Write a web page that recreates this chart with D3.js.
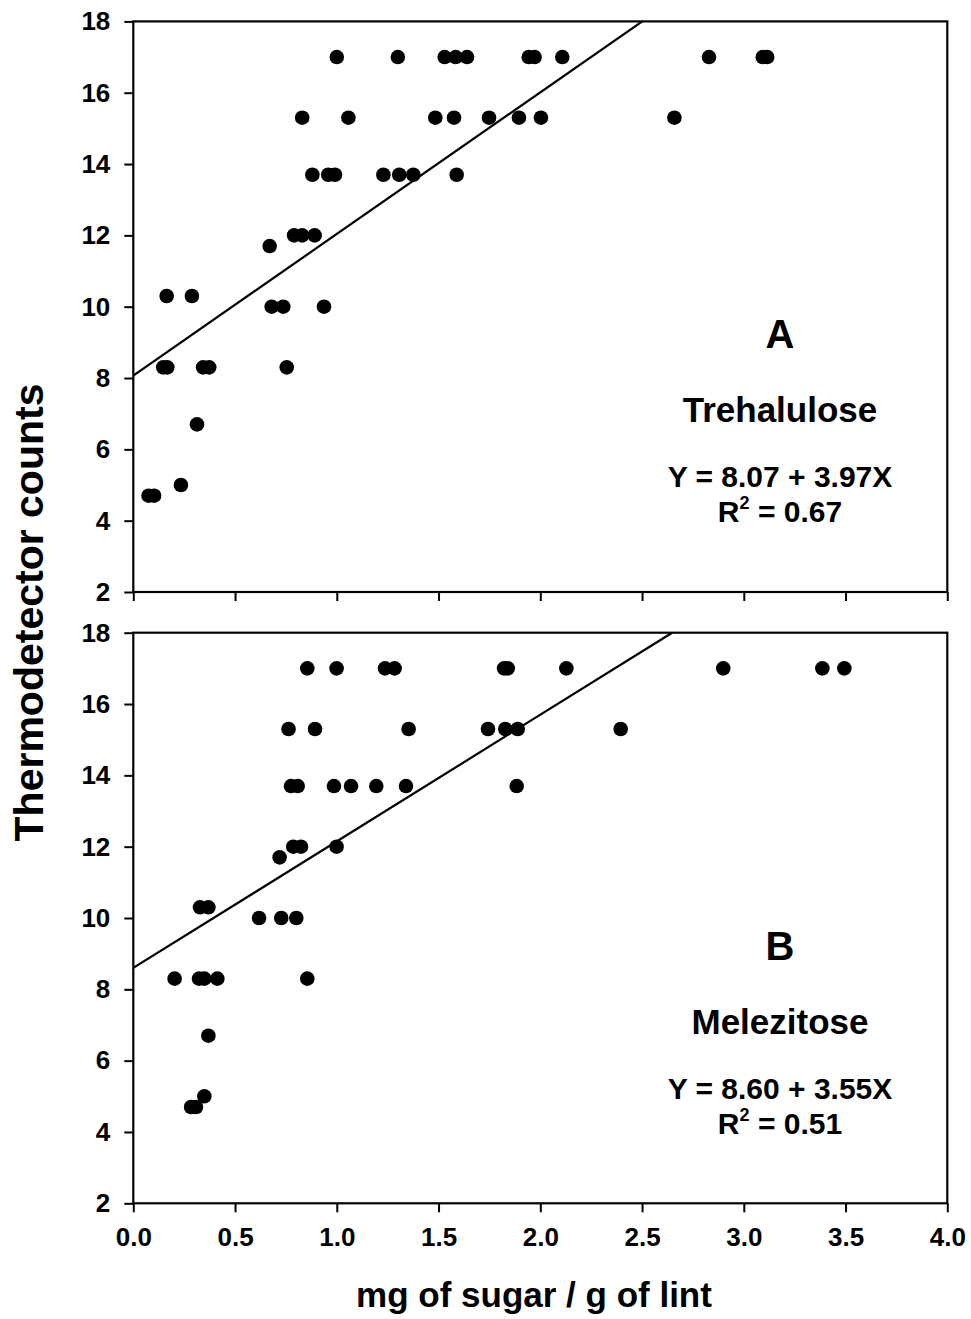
<!DOCTYPE html>
<html lang="en">
<head>
	<meta charset="UTF-8">
	<title>Thermodetector counts</title>
	<script src="https://cdn.jsdelivr.net/npm/d3@7"></script>
	<style>
		html,body{
			margin:0;
			padding:0;
			background:#fff;
		}
		svg{
			display:block;
			font-family:"Liberation Sans", Arial, sans-serif;
			font-weight:bold;
		}
		.tick text{
			font-family:"Liberation Sans", Arial, sans-serif;
			font-size:26px;
			font-weight:bold;
			fill:#000;
		}
		.tick line{
			stroke:#000;
			stroke-width:2;
		}
	</style>
</head>
<body>
	<svg id="svg" width="971" height="1319"></svg>
	<script>
		// data: [mg sugar / g lint, thermodetector count]
		var trehalulose = [
			[1.00,17],[1.30,17],[1.53,17],[1.584,17],[1.64,17],[1.943,17],[1.972,17],[2.108,17],[2.829,17],[3.093,17],[3.115,17],
			[0.83,15.3],[1.057,15.3],[1.484,15.3],[1.576,15.3],[1.748,15.3],[1.895,15.3],[2.003,15.3],[2.659,15.3],
			[0.88,13.7],[0.958,13.7],[0.991,13.7],[1.229,13.7],[1.307,13.7],[1.376,13.7],[1.589,13.7],
			[0.79,12],[0.83,12],[0.891,12],
			[0.670,11.7],
			[0.164,10.3],[0.288,10.3],
			[0.68,10],[0.737,10],[0.937,10],
			[0.147,8.3],[0.167,8.3],[0.343,8.3],[0.373,8.3],[0.754,8.3],
			[0.313,6.7],
			[0.234,5.0],
			[0.075,4.7],[0.102,4.7]
		];
		var melezitose = [
			[0.855,17],[0.999,17],[1.237,17],[1.284,17],[1.822,17],[1.840,17],[2.128,17],[2.899,17],[3.386,17],[3.494,17],
			[0.763,15.3],[0.893,15.3],[1.353,15.3],[1.743,15.3],[1.828,15.3],[1.889,15.3],[2.395,15.3],
			[0.775,13.7],[0.808,13.7],[0.986,13.7],[1.07,13.7],[1.194,13.7],[1.34,13.7],[1.884,13.7],
			[0.786,12],[0.824,12],[0.999,12],
			[0.719,11.7],
			[0.328,10.3],[0.369,10.3],
			[0.618,10],[0.727,10],[0.801,10],
			[0.203,8.3],[0.323,8.3],[0.349,8.3],[0.413,8.3],[0.855,8.3],
			[0.369,6.7],
			[0.349,5.0],
			[0.284,4.7],[0.308,4.7]
		];
		var xTicks = [0,0.5,1,1.5,2,2.5,3,3.5,4];
		var yTicks = [2,4,6,8,10,12,14,16,18];

		var panels = [
			{letter:"A", name:"Trehalulose", a:8.07, b:3.97, eq:"Y = 8.07 + 3.97X", r2:"0.67", pts:trehalulose, top:21.4, labels:false},
			{letter:"B", name:"Melezitose", a:8.60, b:3.55, eq:"Y = 8.60 + 3.55X", r2:"0.51", pts:melezitose, top:632.7, labels:true}
		];

		var svg = d3.select("svg"),
			left = 133.3,
			w = 814,
			h = 570.6;

		var x = d3.scaleLinear().domain([0,4]).range([0,w]);
		var y = d3.scaleLinear().domain([2,18]).range([h,0]);

		panels.forEach((p,i)=>{
			var g = svg.append("g").attr("transform","translate("+left+","+p.top+")");

			g.append("clipPath").attr("id","clip"+i)
				.append("rect").attr("width",w).attr("height",h);

			var yAxis = g.append("g")
				.call(d3.axisLeft(y).tickValues(yTicks).tickSize(9).tickPadding(14).tickFormat(d3.format("d")));
			yAxis.select(".domain").remove();

			var xAxis = g.append("g")
				.attr("transform","translate(0,"+h+")")
				.call(d3.axisBottom(x).tickValues(xTicks).tickSize(9).tickPadding(15)
					.tickFormat(p.labels ? d3.format(".1f") : ""));
			xAxis.select(".domain").remove();

			// regression line
			var x1 = Math.min(4,(18-p.a)/p.b);
			g.append("line")
				.attr("clip-path","url(#clip"+i+")")
				.attr("x1",x(0)).attr("y1",y(p.a))
				.attr("x2",x(x1)).attr("y2",y(p.a+p.b*x1))
				.attr("stroke","#000").attr("stroke-width",2.2);

			g.selectAll("circle")
				.data(p.pts)
				.enter().append("circle")
				.attr("cx",(d)=>{return x(d[0]);})
				.attr("cy",(d)=>{return y(d[1]);})
				.attr("r",7.3)
				.attr("fill","#000");

			g.append("rect")
				.attr("width",w).attr("height",h)
				.attr("fill","none").attr("stroke","#000").attr("stroke-width",2.2);

			// annotations
			var cx = 780-left;
			g.append("text").attr("x",cx).attr("y",327)
				.attr("text-anchor","middle").attr("font-size",40).text(p.letter);
			g.append("text").attr("x",cx).attr("y",401)
				.attr("text-anchor","middle").attr("font-size",35).text(p.name);
			g.append("text").attr("x",cx).attr("y",466)
				.attr("text-anchor","middle").attr("font-size",30).text(p.eq);
			var r = g.append("text").attr("x",cx).attr("y",501)
				.attr("text-anchor","middle").attr("font-size",30);
			r.append("tspan").text("R");
			r.append("tspan").attr("font-size",18).attr("dy",-13).text("2");
			r.append("tspan").attr("dy",13).text(" = "+p.r2);
		});

		svg.append("text")
			.attr("transform","translate(43,612.5) rotate(-90)")
			.attr("text-anchor","middle")
			.attr("font-size",41)
			.text("Thermodetector counts");

		svg.append("text")
			.attr("x",534).attr("y",1307)
			.attr("text-anchor","middle")
			.attr("font-size",35)
			.text("mg of sugar / g of lint");
	</script>
</body>
</html>
